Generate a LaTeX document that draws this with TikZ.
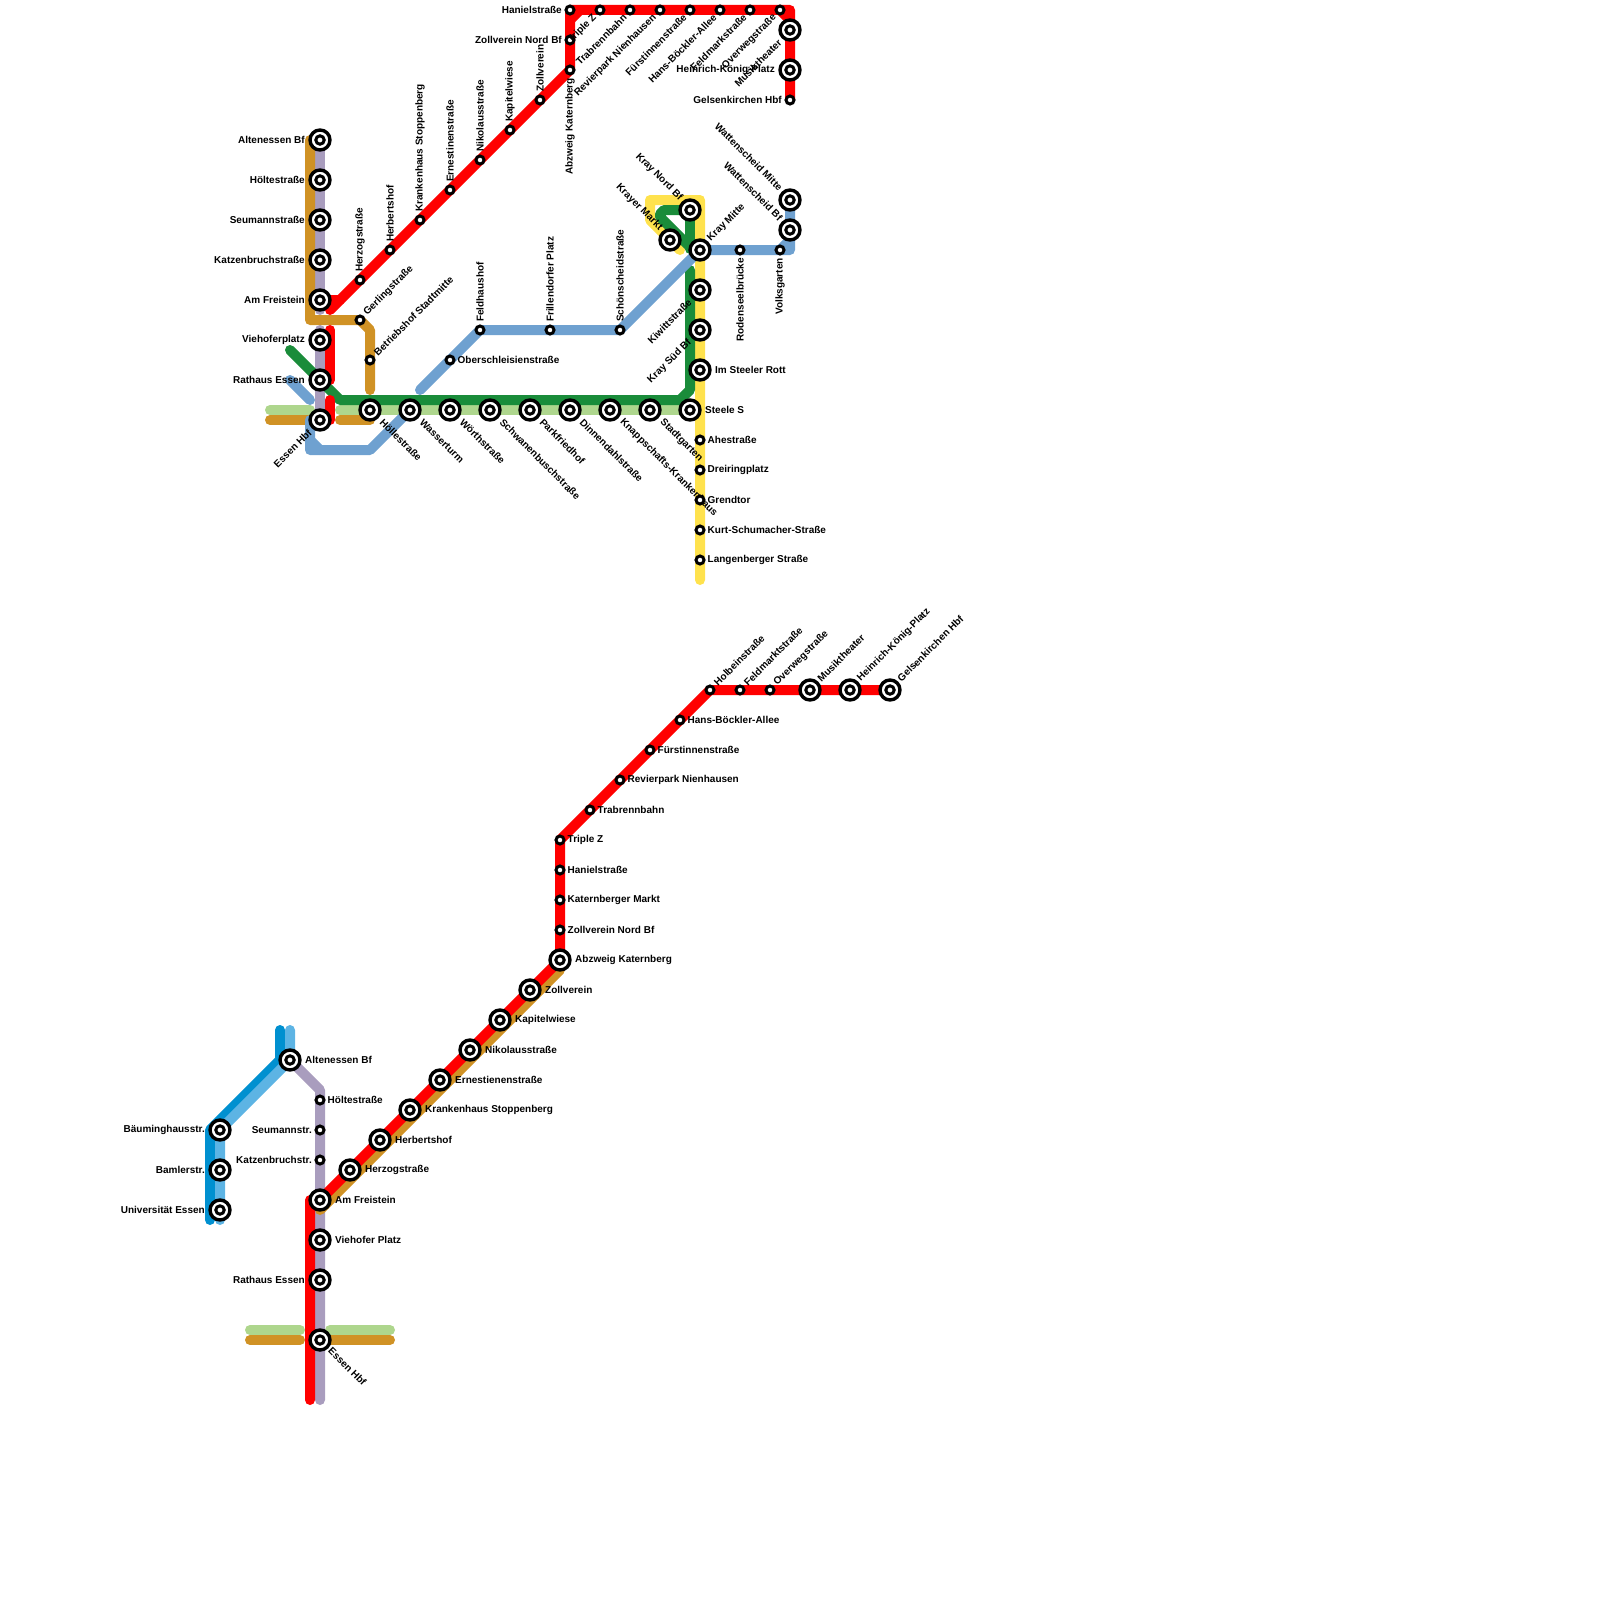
\documentclass[tikz,border=0pt]{standalone}
\usepackage{fontspec}
\setmainfont{Liberation Sans}
\pgfdeclarelayer{lines}
\pgfsetlayers{lines,main}
\definecolor{cred}{HTML}{FF0000}
\definecolor{cpur}{HTML}{A99DBE}
\definecolor{coch}{HTML}{D09225}
\definecolor{cgrn}{HTML}{1A8C3A}
\definecolor{clgr}{HTML}{AED68D}
\definecolor{cblu}{HTML}{6FA1D0}
\definecolor{cyel}{HTML}{FFE24D}
\definecolor{cdbl}{HTML}{0090D0}
\definecolor{clbl}{HTML}{5DB4E4}
\tikzset{
 rail/.style={line width=10pt,line cap=round,line join=round},
 ix/.style={circle,draw=black,fill=white,line width=3.4pt,minimum size=20pt,inner sep=0pt,
   path picture={\draw[black,line width=3pt,fill=white] (path picture bounding box.center) circle (4.2pt);}},
 sm/.style={circle,draw=black,fill=white,line width=3pt,minimum size=8pt,inner sep=0pt},
 txt/.style={inner sep=0pt,font=\fontsize{10}{10}\selectfont\bfseries,text=black},
 LL/.style={txt,xshift=-15pt,anchor=east},
 Ls/.style={txt,xshift=-8pt,anchor=east},
 RR/.style={txt,xshift=15pt,anchor=west},
 Rs/.style={txt,xshift=7.5pt,anchor=west},
 UU/.style={txt,yshift=8pt,rotate=90,anchor=west},
 DD/.style={txt,yshift=-8pt,rotate=90,anchor=east},
 URb/.style={txt,xshift=9pt,yshift=10pt,rotate=45,anchor=west},
 URs/.style={txt,xshift=5.5pt,yshift=6pt,rotate=45,anchor=west},
 DRb/.style={txt,xshift=11.5pt,yshift=-10.5pt,rotate=-45,anchor=west},
 DRc/.style={txt,xshift=10pt,yshift=-9pt,rotate=-45,anchor=west},
 DLb/.style={txt,xshift=-10pt,yshift=-11pt,rotate=45,anchor=east},
 DLs/.style={txt,xshift=-5pt,yshift=-6pt,rotate=45,anchor=east},
 ULb/.style={txt,xshift=-9pt,yshift=11pt,rotate=-45,anchor=east},
}
\newcommand{\stn}[6]{\node[#4] (#1) at (#2,#3) {}; \node[#5] (#1l) at (#2,#3) {#6};}
\begin{document}
\begin{tikzpicture}[x=1pt,y=-1pt]
\useasboundingbox (0,0) rectangle (1600,1600);
% upper network
\stn{aAlt}{320}{140}{ix}{LL}{Altenessen Bf}
\stn{aHol}{320}{180}{ix}{LL}{Höltestraße}
\stn{aSeu}{320}{220}{ix}{LL}{Seumannstraße}
\stn{aKat}{320}{260}{ix}{LL}{Katzenbruchstraße}
\stn{aFre}{320}{300}{ix}{LL}{Am Freistein}
\stn{aVie}{320}{340}{ix}{LL}{Viehoferplatz}
\stn{aRat}{320}{380}{ix}{LL}{Rathaus Essen}
\stn{aHbf}{320}{420}{ix}{DLb}{Essen Hbf}
\stn{aHzg}{360}{280}{sm}{UU}{Herzogstraße}
\stn{aHer}{390}{250}{sm}{UU}{Herbertshof}
\stn{aKra}{420}{220}{sm}{UU}{Krankenhaus Stoppenberg}
\stn{aErn}{450}{190}{sm}{UU}{Ernestinenstraße}
\stn{aNik}{480}{160}{sm}{UU}{Nikolausstraße}
\stn{aKap}{510}{130}{sm}{UU}{Kapitelwiese}
\stn{aZol}{540}{100}{sm}{UU}{Zollverein}
\stn{aAbz}{570}{70}{sm}{DD}{Abzweig Katernberg}
\stn{aZnb}{570}{40}{sm}{Ls}{Zollverein Nord Bf}
\stn{aHan}{570}{10}{sm}{Ls}{Hanielstraße}
\stn{aTri}{600}{10}{sm}{DLs}{Triple Z}
\stn{aTra}{630}{10}{sm}{DLs}{Trabrennbahn}
\stn{aRev}{660}{10}{sm}{DLs}{Revierpark Nienhausen}
\stn{aFur}{690}{10}{sm}{DLs}{Fürstinnenstraße}
\stn{aHbo}{720}{10}{sm}{DLs}{Hans-Böckler-Allee}
\stn{aFel}{750}{10}{sm}{DLs}{Feldmarkstraße}
\stn{aOve}{780}{10}{sm}{DLs}{Overwegstraße}
\stn{aMus}{790}{30}{ix}{DLb}{Musiktheater}
\stn{aHei}{790}{70}{ix}{LL}{Heinrich-König-Platz}
\stn{aGel}{790}{100}{sm}{Ls}{Gelsenkirchen Hbf}
\stn{aGer}{360}{320}{sm}{URs}{Gerlingstraße}
\stn{aBet}{370}{360}{sm}{URs}{Betriebshof Stadtmitte}
\stn{aHoe}{370}{410}{ix}{DRb}{Höllestraße}
\stn{aWas}{410}{410}{ix}{DRb}{Wasserturm}
\stn{aWor}{450}{410}{ix}{DRb}{Wörthstraße}
\stn{aSch}{490}{410}{ix}{DRb}{Schwanenbuschstraße}
\stn{aPar}{530}{410}{ix}{DRb}{Parkfriedhof}
\stn{aDin}{570}{410}{ix}{DRb}{Dinnendahlstraße}
\stn{aKna}{610}{410}{ix}{DRb}{Knappschafts-Krankenhaus}
\stn{aSta}{650}{410}{ix}{DRb}{Stadtgarten}
\stn{aSte}{690}{410}{ix}{RR}{Steele S}
\stn{aObe}{450}{360}{sm}{Rs}{Oberschleisienstraße}
\stn{aFeh}{480}{330}{sm}{UU}{Feldhaushof}
\stn{aFri}{550}{330}{sm}{UU}{Frillendorfer Platz}
\stn{aSho}{620}{330}{sm}{UU}{Schönscheidstraße}
\stn{aKrn}{690}{210}{ix}{ULb}{Kray Nord Bf}
\stn{aKrm}{670}{240}{ix}{ULb}{Krayer Markt}
\stn{aKmi}{700}{250}{ix}{URb}{Kray Mitte}
\stn{aKiw}{700}{290}{ix}{DLb}{Kiwittstraße}
\stn{aKsu}{700}{330}{ix}{DLb}{Kray Süd Bf}
\stn{aIms}{700}{370}{ix}{RR}{Im Steeler Rott}
\stn{aAhe}{700}{440}{sm}{Rs}{Ahestraße}
\stn{aDre}{700}{470}{sm}{Rs}{Dreiringplatz}
\stn{aGre}{700}{500}{sm}{Rs}{Grendtor}
\stn{aKur}{700}{530}{sm}{Rs}{Kurt-Schumacher-Straße}
\stn{aLan}{700}{560}{sm}{Rs}{Langenberger Straße}
\stn{aRod}{740}{250}{sm}{DD}{Rodenseelbrücke}
\stn{aVol}{780}{250}{sm}{DD}{Volksgarten}
\stn{aWbf}{790}{230}{ix}{ULb}{Wattenscheid Bf}
\stn{aWmi}{790}{200}{ix}{ULb}{Wattenscheid Mitte}
% lower network
\stn{bHol}{710}{690}{sm}{URs}{Holbeinstraße}
\stn{bFel}{740}{690}{sm}{URs}{Feldmarktstraße}
\stn{bOve}{770}{690}{sm}{URs}{Overwegstraße}
\stn{bMus}{810}{690}{ix}{URb}{Musiktheater}
\stn{bHei}{850}{690}{ix}{URb}{Heinrich-König-Platz}
\stn{bGel}{890}{690}{ix}{URb}{Gelsenkirchen Hbf}
\stn{bHbo}{680}{720}{sm}{Rs}{Hans-Böckler-Allee}
\stn{bFur}{650}{750}{sm}{Rs}{Fürstinnenstraße}
\stn{bRev}{620}{780}{sm}{Rs}{Revierpark Nienhausen}
\stn{bTra}{590}{810}{sm}{Rs}{Trabrennbahn}
\stn{bTri}{560}{840}{sm}{Rs}{Triple Z}
\stn{bHan}{560}{870}{sm}{Rs}{Hanielstraße}
\stn{bKat}{560}{900}{sm}{Rs}{Katernberger Markt}
\stn{bZnb}{560}{930}{sm}{Rs}{Zollverein Nord Bf}
\stn{bAbz}{560}{960}{ix}{RR}{Abzweig Katernberg}
\stn{bZol}{530}{990}{ix}{RR}{Zollverein}
\stn{bKap}{500}{1020}{ix}{RR}{Kapitelwiese}
\stn{bNik}{470}{1050}{ix}{RR}{Nikolausstraße}
\stn{bErn}{440}{1080}{ix}{RR}{Ernestienenstraße}
\stn{bKra}{410}{1110}{ix}{RR}{Krankenhaus Stoppenberg}
\stn{bHer}{380}{1140}{ix}{RR}{Herbertshof}
\stn{bHzg}{350}{1170}{ix}{RR}{Herzogstraße}
\stn{bFre}{320}{1200}{ix}{RR}{Am Freistein}
\stn{bVie}{320}{1240}{ix}{RR}{Viehofer Platz}
\stn{bRat}{320}{1280}{ix}{LL}{Rathaus Essen}
\stn{bHbf}{320}{1340}{ix}{DRc}{Essen Hbf}
\stn{bKab}{320}{1160}{sm}{Ls}{Katzenbruchstr.}
\stn{bSeu}{320}{1130}{sm}{Ls}{Seumannstr.}
\stn{bHoe}{320}{1100}{sm}{Rs}{Höltestraße}
\stn{bAlt}{290}{1060}{ix}{RR}{Altenessen Bf}
\stn{bBau}{220}{1130}{ix}{LL}{Bäuminghausstr.}
\stn{bBam}{220}{1170}{ix}{LL}{Bamlerstr.}
\stn{bUni}{220}{1210}{ix}{LL}{Universität Essen}
% free ends and bends
\foreach \n/\x/\y in {
 oT/310/140,oC/310/320,oD/360/320,oE/370/330,oF/370/390,
 pA/320/310,pB/320/330,
 rS/340/300,rA/330/310,rC/570/20,rD/580/10,rE/790/10,rF/790/20,rG/570/10,
 rH/330/330,rI/330/380,rJ/330/400,rK/330/420,
 gA/290/350,gB/340/400,gC/680/400,gD/690/390,gE/690/270,
 gF/664/210,gG/660/214,gH/660/217,gI/692/249,
 yA/700/580,yB/700/200,yC/650/200,yD/650/220,yE/680/250,
 lA/270/410,lB/310/410,lC/340/410,
 qA/270/420,qB/310/420,qC/340/420,
 uA/420/390,uB/790/250,uC/290/380,uD/310/400,uE/310/420,uF/310/450,uG/370/450,uH/310/440,uI/320/450,uJ/780/250,uK/790/240,
 sA/310/1400,sB/310/1200,
 tA/320/1400,tB/320/1090,
 vA/320/1210,vB/560/970,
 wA/250/1330,wB/300/1330,wC/330/1330,wD/390/1330,
 xA/250/1340,xB/300/1340,xC/330/1340,
 cA/210/1220,cB/210/1130,cC/280/1060,cD/280/1030,
 dA/220/1220,dB/290/1030}
 {\coordinate (\n) at (\x,\y);}
\begin{pgfonlayer}{lines}
% upper
\draw[rail,clgr] (lA)--(lB);
\draw[rail,clgr] (lC)--(aSte.center);
\draw[rail,coch] (qA)--(qB);
\draw[rail,coch] (qC)--(aHoe.center |- qC);
\draw[rail,cpur] (aAlt.center)--(pA);
\draw[rail,cpur] (pB)--(aHbf.center);
\draw[rail,coch] (oT)--(oC)--(oD)--(oE)--(oF);
\draw[rail,cyel] (yA)--(yB)--(yC)--(yD)--(yE);
\draw[rail,cgrn] (gA)--(gB)--(gC)--(gD)--(gE);
\draw[rail,cgrn] (aKrn.center)--(gF)--(gG)--(gH)--(gI);
\draw[rail,cgrn] (aKrn.center)--(gI -| aKrn.center);
\draw[rail,cblu] (uA)--(aFeh.center)--(aSho.center)--(aKmi.center)--(uB)--(aWmi.center);
\draw[rail,cblu] (uJ)--(uK);
\draw[rail,cblu] (uC)--(uD);
\draw[rail,cblu] (uE)--(uF)--(uG)--(aWas.center);
\draw[rail,cblu] (uH)--(uI);
\draw[rail,cred] (aFre.center)--(rS);
\draw[rail,cred] (rA)--(aAbz.center)--(rG)--(rE)--(aGel.center);
\draw[rail,cred] (rC)--(rD);
\draw[rail,cred] (aOve.center)--(rF);
\draw[rail,cred] (rH)--(rI);
\draw[rail,cred] (rJ)--(rK);
% lower
\draw[rail,clgr] (wA)--(wB);
\draw[rail,clgr] (wC)--(wD);
\draw[rail,coch] (xA)--(xB);
\draw[rail,coch] (xC)--(wD |- xC);
\draw[rail,cpur] (bAlt.center)--(tB)--(tA);
\draw[rail,coch] (vA)--(vB);
\draw[rail,cred] (sA)--(sB)--(bFre.center)--(bAbz.center)--(bTri.center)--(bHol.center)--(bGel.center);
\draw[rail,cdbl] (cA)--(cB)--(cC)--(cD);
\draw[rail,clbl] (dA)--(bBau.center)--(bAlt.center)--(dB);
\end{pgfonlayer}
\end{tikzpicture}
\end{document}
